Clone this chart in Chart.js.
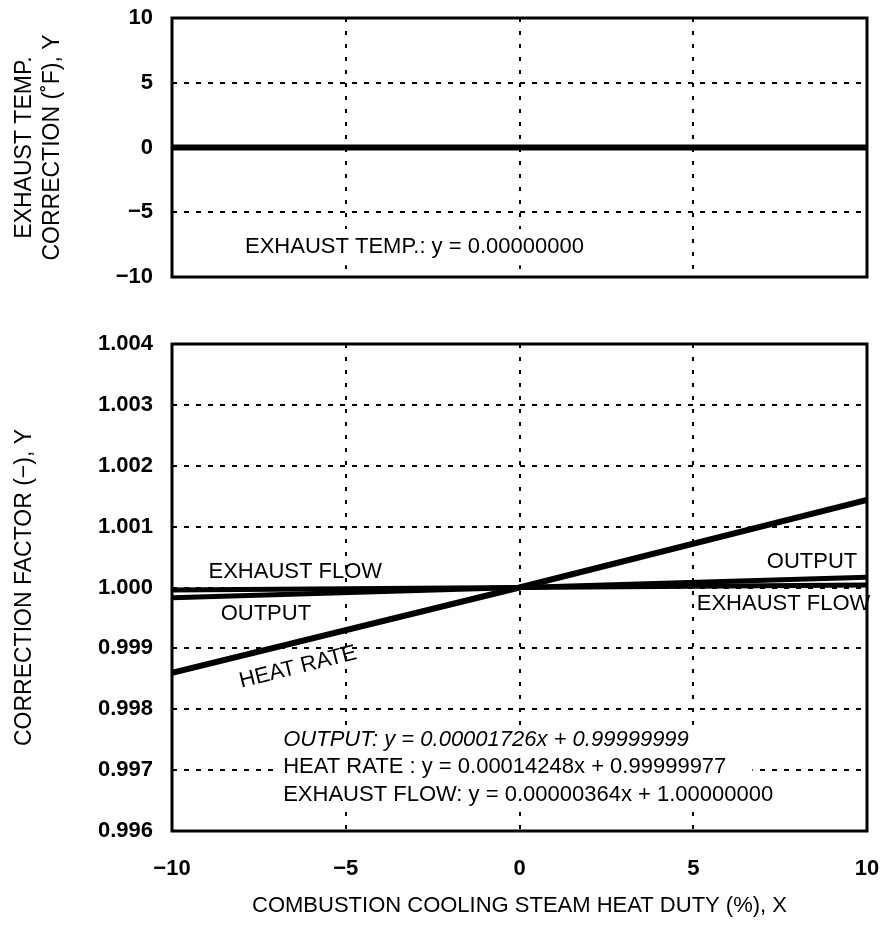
<!DOCTYPE html>
<html>
<head>
<meta charset="utf-8">
<script src="https://cdn.jsdelivr.net/npm/chart.js@4.4.1/dist/chart.umd.min.js"></script>
<style>
  body { margin: 0; background: #fff; }
  #wrap { position: relative; width: 883px; height: 942px; }
  #topChart { position: absolute; left: 0; top: 0; }
  #bottomChart { position: absolute; left: 0; top: 300px; }
</style>
</head>
<body>
<div id="wrap">
  <canvas id="topChart" width="883" height="300"></canvas>
  <canvas id="bottomChart" width="883" height="642"></canvas>
</div>
<script>
// values
const xValues = [-10, 0, 10];
const exhaustTemp = [0, 0, 0];
const output = [0.99983, 1.0, 1.00017];
const heatRate = [0.9986, 1.0, 1.00144];
const exhaustFlow = [0.99996, 1.0, 1.00004];

const xTicks = [-10, -5, 0, 5, 10];
const topTicks = [-10, -5, 0, 5, 10];
const bottomTicks = [0.996, 0.997, 0.998, 0.999, 1.0, 1.001, 1.002, 1.003, 1.004];

const topLabels = [
  { text: "EXHAUST TEMP.: y = 0.00000000", x: -7.9, y: -7.7 }
];
const bottomLabels = [
  { text: "EXHAUST FLOW", x: -8.95, y: 1.00026 },
  { text: "OUTPUT", x: -8.6, y: 0.999565 },
  { text: "HEAT RATE", x: -8.05, y: 0.99845, rotate: -14 },
  { text: "OUTPUT", x: 9.72, y: 1.00042, align: "right" },
  { text: "EXHAUST FLOW", x: 5.1, y: 0.99973 },
  { text: "OUTPUT: y = 0.00001726x + 0.99999999", x: -6.8, y: 0.997495, italic: true },
  { text: "HEAT RATE : y = 0.00014248x + 0.99999977", x: -6.8, y: 0.99705 },
  { text: "EXHAUST FLOW: y = 0.00000364x + 1.00000000", x: -6.8, y: 0.996595 }
];

const FONT = "'Liberation Sans', Arial, sans-serif";
const minus = (v) => String(v).replace("-", "\u2212");

function points(ys) {
  return xValues.map((x, i) => ({ x: x, y: ys[i] }));
}

function noPad(s) {
  s.paddingTop = 0;
  s.paddingBottom = 0;
  s.paddingLeft = 0;
  s.paddingRight = 0;
}

const framePlugin = {
  id: "frame",
  afterDatasetsDraw(chart) {
    const { ctx, chartArea: a } = chart;
    ctx.save();
    ctx.strokeStyle = "#000";
    ctx.lineWidth = 3;
    ctx.strokeRect(a.left, a.top, a.right - a.left, a.bottom - a.top);
    ctx.restore();
  }
};

function labelPlugin(labels, boxes) {
  return {
    id: "labels",
    beforeDatasetsDraw(chart) {
      const { ctx, scales } = chart;
      ctx.save();
      ctx.fillStyle = "#fff";
      boxes.forEach((b) => {
        const x1 = scales.x.getPixelForValue(b.x1);
        const x2 = scales.x.getPixelForValue(b.x2);
        const y1 = scales.y.getPixelForValue(b.y1);
        const y2 = scales.y.getPixelForValue(b.y2);
        ctx.fillRect(x1, y2, x2 - x1, y1 - y2);
      });
      ctx.restore();
    },
    afterDatasetsDraw(chart) {
      const { ctx, scales } = chart;
      labels.forEach((l) => {
        ctx.save();
        ctx.translate(scales.x.getPixelForValue(l.x), scales.y.getPixelForValue(l.y));
        if (l.rotate) ctx.rotate((l.rotate * Math.PI) / 180);
        ctx.font = (l.italic ? "italic " : "") + "22px " + FONT;
        ctx.fillStyle = "#000";
        ctx.textAlign = l.align || "left";
        ctx.textBaseline = "middle";
        ctx.fillText(l.text, 0, 0);
        ctx.restore();
      });
    }
  };
}

function lineSet(data, width) {
  return {
    data: points(data),
    borderColor: "#000",
    borderWidth: width,
    pointRadius: 0,
    tension: 0,
    fill: false
  };
}

function gridOpts(dash) {
  return {
    grid: { color: "#000", lineWidth: 2, drawTicks: false },
    border: { display: false, dash: dash }
  };
}

new Chart(document.getElementById("topChart"), {
  type: "line",
  data: { datasets: [lineSet(exhaustTemp, 6)] },
  options: {
    responsive: false,
    animation: false,
    layout: { padding: { top: 18, right: 16, left: 0, bottom: 0 } },
    plugins: { legend: { display: false }, tooltip: { enabled: false } },
    scales: {
      x: {
        type: "linear",
        min: -10,
        max: 10,
        ...gridOpts([4, 9]),
        ticks: { display: false },
        afterBuildTicks: (s) => { s.ticks = xTicks.map((v) => ({ value: v })); },
        afterFit: (s) => { s.height = 23; noPad(s); }
      },
      y: {
        min: -10,
        max: 10,
        ...gridOpts([5, 7]),
        ticks: {
          padding: 19,
          color: "#000",
          font: { family: FONT, size: 22, weight: "bold" },
          callback: (v) => minus(v)
        },
        afterBuildTicks: (s) => { s.ticks = topTicks.map((v) => ({ value: v })); },
        afterFit: (s) => { s.width = 172; noPad(s); },
        title: {
          display: true,
          text: ["EXHAUST TEMP.", "CORRECTION (\u02DAF), Y"],
          color: "#000",
          font: { family: FONT, size: 23, lineHeight: 1.22 },
          padding: { top: 11 }
        }
      }
    }
  },
  plugins: [framePlugin, labelPlugin(topLabels, [{ x1: -8.05, x2: 2.4, y1: -9.1, y2: -6.3 }])]
});

new Chart(document.getElementById("bottomChart"), {
  type: "line",
  data: {
    datasets: [
      lineSet(exhaustFlow, 5),
      lineSet(output, 5),
      lineSet(heatRate, 6)
    ]
  },
  options: {
    responsive: false,
    animation: false,
    layout: { padding: { top: 44, right: 16, left: 0, bottom: 0 } },
    plugins: { legend: { display: false }, tooltip: { enabled: false } },
    scales: {
      x: {
        type: "linear",
        min: -10,
        max: 10,
        ...gridOpts([4, 9]),
        ticks: {
          padding: 25,
          color: "#000",
          maxRotation: 0,
          font: { family: FONT, size: 22, weight: "bold" },
          callback: (v) => minus(v)
        },
        afterBuildTicks: (s) => { s.ticks = xTicks.map((v) => ({ value: v })); },
        afterFit: (s) => { s.height = 111; noPad(s); },
        title: {
          display: true,
          text: "COMBUSTION COOLING STEAM HEAT DUTY (%), X",
          color: "#000",
          font: { family: FONT, size: 22 },
          padding: { top: 0, bottom: 23 }
        }
      },
      y: {
        min: 0.996,
        max: 1.004,
        ...gridOpts([5, 7]),
        ticks: {
          padding: 19,
          color: "#000",
          font: { family: FONT, size: 22, weight: "bold" },
          callback: (v) => v.toFixed(3)
        },
        afterBuildTicks: (s) => { s.ticks = bottomTicks.map((v) => ({ value: v })); },
        afterFit: (s) => { s.width = 172; noPad(s); },
        title: {
          display: true,
          text: "CORRECTION FACTOR (\u2212), Y",
          color: "#000",
          font: { family: FONT, size: 23, lineHeight: 1.22 },
          padding: { top: 11 }
        }
      }
    }
  },
  plugins: [framePlugin, labelPlugin(bottomLabels, [{ x1: -6.9, x2: 6.7, y1: 0.99638, y2: 0.99772 }])]
});
</script>
</body>
</html>
